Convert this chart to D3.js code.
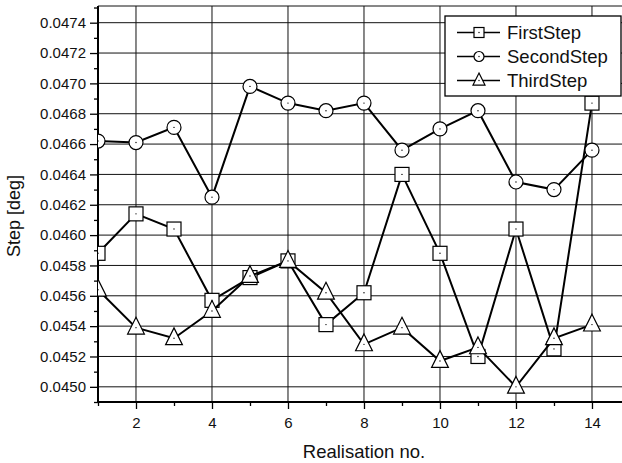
<!DOCTYPE html>
<html>
<head>
<meta charset="utf-8">
<script src="https://cdn.jsdelivr.net/npm/d3@7/dist/d3.min.js"></script>
<style>
	body { margin: 0; background: #fff; }
	svg { display: block; font-family: "Liberation Sans", Arial, sans-serif; }
</style>
</head>
<body>
<div id="chart"></div>
<script>
// data
const realisations = [1, 2, 3, 4, 5, 6, 7, 8, 9, 10, 11, 12, 13, 14];
const firstStep = [0.04588, 0.04614, 0.04604, 0.04557, 0.04572, 0.04583, 0.04541, 0.04562, 0.04640, 0.04588, 0.04520, 0.04604, 0.04525, 0.04687];
const secondStep = [0.04662, 0.04661, 0.04671, 0.04625, 0.04698, 0.04687, 0.04682, 0.04687, 0.04656, 0.04670, 0.04682, 0.04635, 0.04630, 0.04656];
const thirdStep = [0.04564, 0.04539, 0.04532, 0.04550, 0.04573, 0.04583, 0.04562, 0.04528, 0.04539, 0.04517, 0.04526, 0.04500, 0.04532, 0.04541];
const seriesNames = ["FirstStep", "SecondStep", "ThirdStep"];
const markerShapes = ["square", "circle", "triangle"];

const xMajorTicks = [2, 4, 6, 8, 10, 12, 14];
const xMinorTicks = [1, 3, 5, 7, 9, 11, 13];
const yMajorTicks = [0.0450, 0.0452, 0.0454, 0.0456, 0.0458, 0.0460, 0.0462, 0.0464, 0.0466, 0.0468, 0.0470, 0.0472, 0.0474];
const yMinorTicks = [0.0449, 0.0451, 0.0453, 0.0455, 0.0457, 0.0459, 0.0461, 0.0463, 0.0465, 0.0467, 0.0469, 0.0471, 0.0473, 0.0475];

const width = 622;
const height = 463;
const plotLeft = 98, plotRight = 622, plotTop = 6, plotBottom = 402;

const svg = d3.select("#chart")
	.append("svg")
	.attr("width", width)
	.attr("height", height);

const x = d3.scaleLinear().domain([1, 14.79]).range([plotLeft, plotRight]);
const y = d3.scaleLinear().domain([0.0449, 0.04751]).range([plotBottom, plotTop]);

// grid
svg.append("g")
	.selectAll("line")
	.data(xMajorTicks)
	.enter()
	.append("line")
	.attr("x1", (d) => x(d))
	.attr("x2", (d) => x(d))
	.attr("y1", plotTop)
	.attr("y2", plotBottom)
	.attr("stroke", "#111")
	.attr("stroke-width", 1);

svg.append("g")
	.selectAll("line")
	.data(yMajorTicks)
	.enter()
	.append("line")
	.attr("x1", plotLeft)
	.attr("x2", plotRight)
	.attr("y1", (d) => y(d))
	.attr("y2", (d) => y(d))
	.attr("stroke", "#111")
	.attr("stroke-width", 1);

// top frame line
svg.append("line")
	.attr("x1", plotLeft).attr("x2", plotRight)
	.attr("y1", plotTop).attr("y2", plotTop)
	.attr("stroke", "#111")
	.attr("stroke-width", 1);

// axes
const styleAxis = (g) => {
	g.select(".domain").remove();
	g.selectAll(".tick line").attr("stroke", "#000").attr("stroke-width", 1.3);
	g.selectAll(".tick text").attr("fill", "#111").style("font-size", "15px");
};

svg.append("g")
	.attr("transform", `translate(${plotLeft},0)`)
	.call(d3.axisLeft(y).tickValues(yMajorTicks).tickSize(8).tickPadding(4).tickFormat(d3.format(".4f")))
	.call(styleAxis);

svg.append("g")
	.attr("transform", `translate(${plotLeft},0)`)
	.call(d3.axisLeft(y).tickValues(yMinorTicks).tickSize(4).tickFormat(""))
	.call(styleAxis);

svg.append("g")
	.attr("transform", `translate(0,${plotBottom})`)
	.call(d3.axisBottom(x).tickValues(xMajorTicks).tickSize(7).tickPadding(8).tickFormat(d3.format("d")))
	.call(styleAxis);

svg.append("g")
	.attr("transform", `translate(0,${plotBottom})`)
	.call(d3.axisBottom(x).tickValues(xMinorTicks).tickSize(4).tickFormat(""))
	.call(styleAxis);

// axis lines
svg.append("line")
	.attr("x1", plotLeft).attr("x2", plotLeft)
	.attr("y1", plotTop).attr("y2", plotBottom + 1)
	.attr("stroke", "#000")
	.attr("stroke-width", 2);

svg.append("line")
	.attr("x1", plotLeft - 1).attr("x2", plotRight)
	.attr("y1", plotBottom).attr("y2", plotBottom)
	.attr("stroke", "#000")
	.attr("stroke-width", 2);

// axis titles
svg.append("text")
	.attr("transform", `translate(20,216) rotate(-90)`)
	.attr("text-anchor", "middle")
	.attr("fill", "#111")
	.style("font-size", "18px")
	.text("Step [deg]");

svg.append("text")
	.attr("x", 364)
	.attr("y", 458)
	.attr("text-anchor", "middle")
	.attr("fill", "#111")
	.style("font-size", "18.5px")
	.text("Realisation no.");

// series
svg.append("clipPath")
	.attr("id", "plot-clip")
	.append("rect")
	.attr("x", plotLeft)
	.attr("y", plotTop)
	.attr("width", plotRight - plotLeft)
	.attr("height", plotBottom - plotTop);

const drawMarker = (g, shape, size) => {
	if (shape == "square") {
		g.append("rect")
			.attr("x", -size / 2).attr("y", -size / 2)
			.attr("width", size).attr("height", size);
	} else if (shape == "circle") {
		g.append("circle").attr("r", size / 2);
	} else {
		const s = size * 1.2;
		g.append("path")
			.attr("d", `M 0 ${-s * 0.62} L ${s / 2} ${s * 0.38} L ${-s / 2} ${s * 0.38} Z`);
	}
	g.selectAll("rect, circle, path")
		.attr("fill", "#fff")
		.attr("stroke", "#000")
		.attr("stroke-width", 1.2);
	g.append("circle").attr("r", 0.7).attr("fill", "#000");
};

const plot = svg.append("g").attr("clip-path", "url(#plot-clip)");
const allSeries = [firstStep, secondStep, thirdStep];

const line = d3.line()
	.x((d, i) => x(realisations[i]))
	.y((d) => y(d));

allSeries.forEach((values, k) => {
	plot.append("path")
		.datum(values)
		.attr("d", line)
		.attr("fill", "none")
		.attr("stroke", "#000")
		.attr("stroke-width", 2);

	plot.append("g")
		.selectAll("g")
		.data(values)
		.enter()
		.append("g")
		.attr("transform", (d, i) => `translate(${x(realisations[i])},${y(d)})`)
		.each(function () {
			drawMarker(d3.select(this), markerShapes[k], 14);
		});
});

// legend
const legend = svg.append("g");
legend.append("rect")
	.attr("x", 445)
	.attr("y", 16)
	.attr("width", 176)
	.attr("height", 80)
	.attr("fill", "#fff")
	.attr("stroke", "#000")
	.attr("stroke-width", 1.3);

seriesNames.forEach((name, k) => {
	const row = legend.append("g").attr("transform", `translate(0,${32.5 + k * 24})`);
	row.append("line")
		.attr("x1", 457).attr("x2", 500)
		.attr("stroke", "#000")
		.attr("stroke-width", 1.5);
	drawMarker(row.append("g").attr("transform", "translate(479,0)"), markerShapes[k], 10);
	row.append("text")
		.attr("x", 507)
		.attr("y", 6.5)
		.attr("fill", "#111")
		.style("font-size", "18.5px")
		.text(name);
});
</script>
</body>
</html>
